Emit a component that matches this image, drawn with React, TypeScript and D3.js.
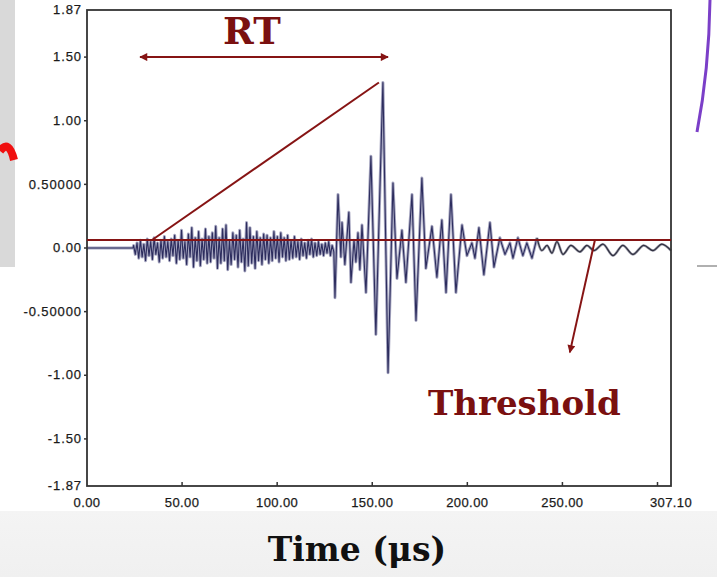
import React from "react";
import * as d3 from "d3";

const W = 717;
const H = 577;

// Axes
const xDomain = [0, 307.1];
const yDomain = [-1.87, 1.87];
const xTickValues = [0, 50, 100, 150, 200, 250, 300];
const xTickLabels = ["0.00", "50.00", "100.00", "150.00", "200.00", "250.00", ""];
const xEndValue = 307.1;
const xEndLabel = "307.10";
const yTickValues = [1.87, 1.5, 1, 0.5, 0, -0.5, -1, -1.5, -1.87];
const yTickLabels = ["1.87", "1.50", "1.00", "0.50000", "0.00", "-0.50000", "-1.00", "-1.50", "-1.87"];

// Waveform: flat lead-in (µs, V)
const leadT = [0, 24.2];
const leadV = [0, 0];

// Pre-burst noise sampled every 0.9 µs starting at 24.5 µs
const noiseStart = 24.5;
const noiseStep = 0.9;
const noiseValues = [
  0.02, -0.05, 0.04, -0.08, 0.06, -0.07, 0.03, -0.1, 0.07, -0.06, 0.05, -0.09,
  0.08, -0.05, 0.04, -0.11, 0.06, -0.08, 0.09, -0.07, 0.05, -0.1, 0.07, -0.06,
  0.1, -0.12, 0.06, -0.09, 0.14, -0.08, 0.05, -0.13, 0.11, -0.07, 0.16, -0.15,
  0.08, -0.1, 0.13, -0.14, 0.07, -0.09, 0.15, -0.12, 0.09, -0.11, 0.12, -0.08,
  0.17, -0.16, 0.08, -0.12, 0.15, -0.1, 0.18, -0.17, 0.06, -0.13, 0.12, -0.09,
  0.1, -0.15, 0.14, -0.11, 0.07, -0.18, 0.2, -0.14, 0.16, -0.12, 0.09, -0.16,
  0.13, -0.1, 0.08,
  -0.13, 0.11, -0.09, 0.1, -0.12, 0.08, -0.1, 0.13, -0.08, 0.09, -0.11, 0.12,
  -0.07, 0.08, -0.1, 0.1, -0.09, 0.06, -0.08, 0.09, -0.07, 0.05, -0.09, 0.07,
  -0.06, 0.04, -0.08, 0.06, -0.05, 0.07, -0.07, 0.04, -0.06, 0.05, -0.05, 0.03,
  -0.06, 0.04, -0.04, 0.05, -0.06, 0.02, -0.03,
];

// Burst extremes (µs, V)
const burstT = [
  130.4, 132.0, 133.5, 134.1, 135.6, 137.7, 138.8, 140.4, 141.4, 142.5, 143.5,
  144.6, 146.7, 149.3, 151.9, 155.6, 158.3, 160.9, 163.0, 165.6, 167.7, 170.9,
  173.0, 176.1, 178.2, 181.4, 184.0, 186.6, 188.8, 191.4, 194.0, 197.2, 199.8,
  202.4, 204.0, 206.1, 208.7, 211.9, 214.0, 217.1, 219.8, 222.4, 224.0, 226.6,
  229.2, 231.3, 234.0, 236.6,
];
const burstV = [
  -0.39, 0.42, -0.07, 0.2, -0.13, 0.28, -0.27, 0.06, -0.11, 0.12, -0.17,
  0.18, -0.35, 0.72, -0.68, 1.3, -0.98, 0.51, -0.24, 0.14, -0.27, 0.42,
  -0.57, 0.55, -0.16, 0.17, -0.23, 0.22, -0.35, 0.42, -0.35, 0.18, -0.06,
  0.04, -0.08, 0.16, -0.21, 0.2, -0.15, 0.08, -0.05, 0.04, -0.08, 0.08,
  -0.06, 0.04, -0.08, 0.08,
];

// Smooth ringing tail (µs, V)
const tailT = [
  236.6, 239.2, 241.9, 244.5, 247.1, 250.3, 254.5, 259.2, 262.9, 266.6, 271.3,
  276.6, 281.8, 287.1, 292.8, 297.6, 302.3, 307.1,
];
const tailV = [
  0.08, -0.02, 0.02, -0.04, 0.05, -0.05, 0.02, -0.03, 0.02, -0.02, 0.03,
  -0.06, 0.02, -0.05, 0.02, -0.02, 0.03, -0.02,
];

// Annotations (µs, V)
const thresholdV = 0.063;
const rtStartT = 27.9;
const rtEndT = 158.3;
const rtArrowV = 1.5;
const rtLineStart = [34.2, 0.063];
const rtLineEnd = [153.5, 1.3];
const thrArrowStart = [267.1, 0.063];
const thrArrowEnd = [253.9, -0.82];
const rtLabelPos = [86.7, 1.6];
const thrLabelPos = [179.3, -1.31];

const RED = "#861414";
const LABEL_FONT = "'Liberation Sans', Arial, sans-serif";

type P = { t: number; v: number };

export default function App() {
  const x = d3.scaleLinear().domain(xDomain).range([87, 671]);
  const y = d3.scaleLinear().domain(yDomain).range([486, 10]);

  const sharp: P[] = [];
  leadT.forEach((t, i) => sharp.push({ t, v: leadV[i] }));
  noiseValues.forEach((v, i) => sharp.push({ t: noiseStart + i * noiseStep, v }));
  burstT.forEach((t, i) => sharp.push({ t, v: burstV[i] }));
  const tail: P[] = tailT.map((t, i) => ({ t, v: tailV[i] }));

  const lineSharp = d3.line<P>().x((d) => x(d.t)).y((d) => y(d.v));
  const lineSmooth = d3
    .line<P>()
    .x((d) => x(d.t))
    .y((d) => y(d.v))
    .curve(d3.curveMonotoneX);
  const dSharp = lineSharp(sharp) || "";
  const dTail = lineSmooth(tail) || "";

  const [x0, x1] = x.range();
  const [yb, yt] = y.range();

  const labelProps = {
    fontFamily: LABEL_FONT,
    fontSize: 13,
    fill: "#1a1a1a",
    stroke: "#1a1a1a",
    strokeWidth: 0.25,
  };

  return (
    <svg
      width={W}
      height={H}
      style={{ position: "absolute", left: 0, top: 0, background: "#ffffff" }}
    >
      <defs>
        <marker id="ah" viewBox="0 0 10 10" refX="9" refY="5" markerWidth="10" markerHeight="8"
          markerUnits="userSpaceOnUse" orient="auto-start-reverse">
          <path d="M0,0 L10,5 L0,10 z" fill={RED} />
        </marker>
        <linearGradient id="bot" x1="0" y1="0" x2="0" y2="1">
          <stop offset="0" stopColor="#f4f4f4" />
          <stop offset="1" stopColor="#f0f0f0" />
        </linearGradient>
      </defs>

      {/* slide background decorations */}
      <rect x={0} y={511} width={W} height={H - 511} fill="url(#bot)" />
      <rect x={0} y={0} width={15} height={267} fill="#d9d9d9" />
      <path d="M0,151 Q9,139 14,160" fill="none" stroke="#f01010" strokeWidth={8} />
      <path d="M710,0 Q709,70 697,132" fill="none" stroke="#7b3fc8" strokeWidth={3} />
      <line x1={697} x2={717} y1={266} y2={266} stroke="#b0b0b0" strokeWidth={2} />

      {/* plot area */}
      <rect x={x0} y={yt} width={x1 - x0} height={yb - yt} fill="#ffffff" />

      {/* waveform */}
      <path d={dSharp} fill="none" stroke="#a6a6c0" strokeWidth={3} strokeLinejoin="round" />
      <path d={dSharp} fill="none" stroke="#2d2d5e" strokeWidth={1.1} strokeLinejoin="round" />
      <path d={dTail} fill="none" stroke="#9a9aa8" strokeWidth={2.6} strokeLinejoin="round" />
      <path d={dTail} fill="none" stroke="#2f2f3f" strokeWidth={1.2} strokeLinejoin="round" />

      {/* frame */}
      <rect x={x0} y={yt} width={x1 - x0} height={yb - yt} fill="none" stroke="#333" strokeWidth={1.8} />

      {/* y ticks */}
      {yTickValues.map((v, i) => (
        <g key={"y" + i}>
          {i > 0 && i < yTickValues.length - 1 && (
            <line x1={x0 - 3} x2={x0} y1={y(v)} y2={y(v)} stroke="#333" strokeWidth={1.5} />
          )}
          <text x={x0 - 5} y={y(v)} dy="0.32em" textAnchor="end" letterSpacing={0.9} {...labelProps}>
            {yTickLabels[i]}
          </text>
        </g>
      ))}

      {/* x ticks */}
      {xTickValues.map((v, i) => (
        <g key={"x" + i}>
          {i > 0 && (
            <line x1={x(v)} x2={x(v)} y1={yb} y2={yb - 4} stroke="#333" strokeWidth={1.5} />
          )}
          {xTickLabels[i] && (
            <text x={x(v)} y={507} textAnchor="middle" letterSpacing={0.4} {...labelProps}>
              {xTickLabels[i]}
            </text>
          )}
        </g>
      ))}
      <text x={x(xEndValue)} y={507} textAnchor="middle" letterSpacing={0.4} {...labelProps}>
        {xEndLabel}
      </text>

      {/* threshold line */}
      <line x1={x0} x2={x1} y1={y(thresholdV)} y2={y(thresholdV)} stroke={RED} strokeWidth={2} />

      {/* RT annotation */}
      <line
        x1={x(rtStartT)}
        x2={x(rtEndT)}
        y1={y(rtArrowV)}
        y2={y(rtArrowV)}
        stroke={RED}
        strokeWidth={2}
        markerStart="url(#ah)"
        markerEnd="url(#ah)"
      />
      <line
        x1={x(rtLineStart[0])}
        y1={y(rtLineStart[1])}
        x2={x(rtLineEnd[0])}
        y2={y(rtLineEnd[1])}
        stroke={RED}
        strokeWidth={2}
      />
      <text
        x={x(rtLabelPos[0])}
        y={y(rtLabelPos[1])}
        textAnchor="middle"
        fontFamily="'DejaVu Serif', serif"
        fontWeight="bold"
        fontSize={37}
        fill="#7a1010"
      >
        RT
      </text>

      {/* Threshold annotation */}
      <line
        x1={x(thrArrowStart[0])}
        y1={y(thrArrowStart[1])}
        x2={x(thrArrowEnd[0])}
        y2={y(thrArrowEnd[1])}
        stroke={RED}
        strokeWidth={2}
        markerEnd="url(#ah)"
      />
      <text
        x={x(thrLabelPos[0])}
        y={y(thrLabelPos[1])}
        textAnchor="start"
        fontFamily="'DejaVu Serif', serif"
        fontWeight="bold"
        fontSize={34}
        fill="#7a1010"
      >
        Threshold
      </text>

      {/* x axis title */}
      <text
        x={357}
        y={561}
        textAnchor="middle"
        fontFamily="'DejaVu Serif', serif"
        fontWeight="bold"
        fontSize={33}
        fill="#111"
      >
        Time (μs)
      </text>
    </svg>
  );
}
